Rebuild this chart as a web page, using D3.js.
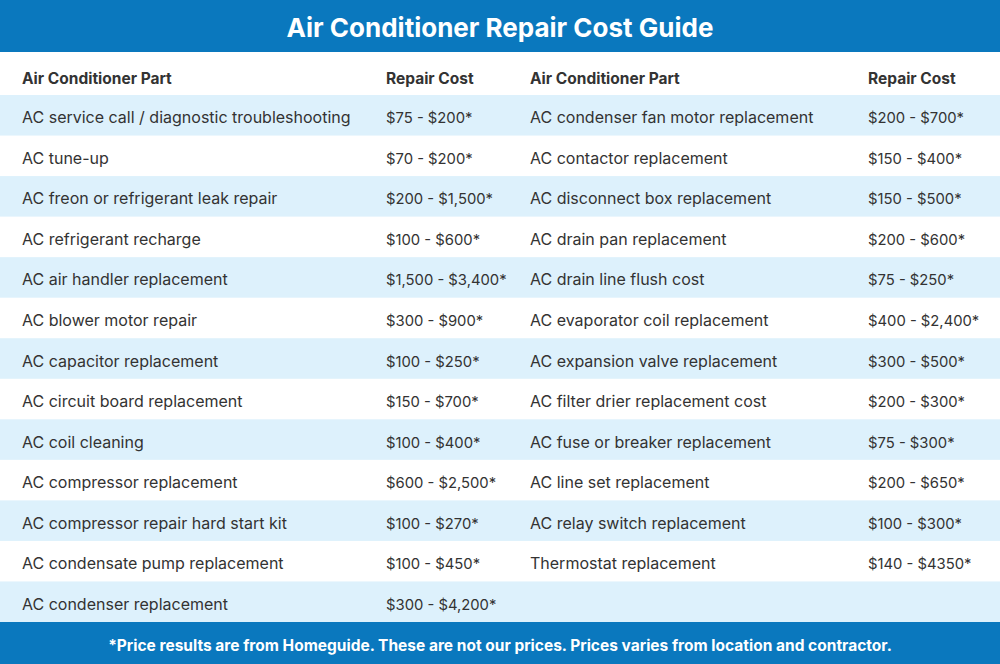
<!DOCTYPE html>
<html><head><meta charset="utf-8">
<script src="https://cdn.jsdelivr.net/npm/d3@7"></script>
<style>body{margin:0;background:#fff}svg{display:block;font-family:Inter,"Open Sans",sans-serif}</style>
</head><body>
<svg width="1000" height="664"></svg>
<script>
// table data
var title = "Air Conditioner Repair Cost Guide";
var headers = ["Air Conditioner Part", "Repair Cost"];
var leftParts = ["AC service call / diagnostic troubleshooting", "AC tune-up", "AC freon or refrigerant leak repair",
    "AC refrigerant recharge", "AC air handler replacement", "AC blower motor repair", "AC capacitor replacement",
    "AC circuit board replacement", "AC coil cleaning", "AC compressor replacement", "AC compressor repair hard start kit",
    "AC condensate pump replacement", "AC condenser replacement"];
var leftCosts = ["$75 - $200*", "$70 - $200*", "$200 - $1,500*", "$100 - $600*", "$1,500 - $3,400*", "$300 - $900*",
    "$100 - $250*", "$150 - $700*", "$100 - $400*", "$600 - $2,500*", "$100 - $270*", "$100 - $450*", "$300 - $4,200*"];
var rightParts = ["AC condenser fan motor replacement", "AC contactor replacement", "AC disconnect box replacement",
    "AC drain pan replacement", "AC drain line flush cost", "AC evaporator coil replacement", "AC expansion valve replacement",
    "AC filter drier replacement cost", "AC fuse or breaker replacement", "AC line set replacement",
    "AC relay switch replacement", "Thermostat replacement"];
var rightCosts = ["$200 - $700*", "$150 - $400*", "$150 - $500*", "$200 - $600*", "$75 - $250*", "$400 - $2,400*",
    "$300 - $500*", "$200 - $300*", "$75 - $300*", "$200 - $650*", "$100 - $300*", "$140 - $4350*"];
var footnote = "*Price results are from Homeguide. These are not our prices. Prices varies from location and contractor.";

var blue = "#0a78be", stripe = "#ddf1fc", ink = "#333";
var svg = d3.select("svg");

// row scale
var y = d3.scaleBand().domain(d3.range(leftParts.length)).range([95, 622]);

// stripes
svg.selectAll("rect.stripe")
    .data(d3.range(leftParts.length).filter(function(i) { return i % 2 == 0; }))
    .join("rect")
    .attr("x", 0).attr("width", 1000)
    .attr("y", function(i) { return y(i); })
    .attr("height", y.bandwidth())
    .attr("fill", stripe);

// header and footer bands
svg.append("rect").attr("width", 1000).attr("height", 52).attr("fill", blue);
svg.append("rect").attr("y", 622).attr("width", 1000).attr("height", 42).attr("fill", blue);
svg.append("text").attr("x", 500).attr("y", 37).attr("text-anchor", "middle")
    .attr("fill", "#fff").attr("font-size", 26).attr("font-weight", 700).text(title);
svg.append("text").attr("x", 500).attr("y", 651).attr("text-anchor", "middle")
    .attr("fill", "#fff").attr("font-size", 15.5).attr("font-weight", 700).text(footnote);

// columns
var cols = [
    {x: 22, head: headers[0], vals: leftParts, size: 16},
    {x: 386, head: headers[1], vals: leftCosts, size: 14.8},
    {x: 530, head: headers[0], vals: rightParts, size: 16},
    {x: 868, head: headers[1], vals: rightCosts, size: 14.8}
];
cols.forEach(function(c) {
    svg.append("text").attr("x", c.x).attr("y", 84).attr("fill", ink)
        .attr("font-size", 15.5).attr("font-weight", 700).text(c.head);
    svg.selectAll(null).data(c.vals).join("text")
        .attr("x", c.x)
        .attr("y", function(d, i) { return y(i) + y.bandwidth() / 2 + 8; })
        .attr("fill", ink).attr("font-size", c.size)
        .text(function(d) { return d; });
});
</script>
</body></html>
